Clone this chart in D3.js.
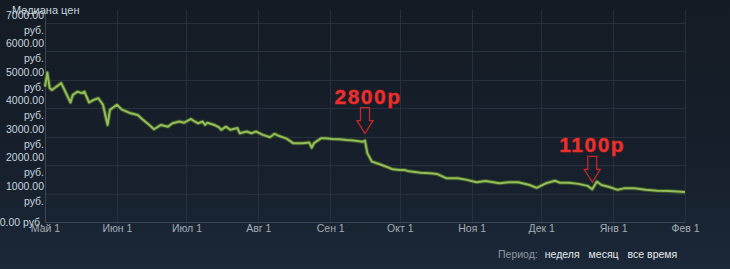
<!DOCTYPE html>
<html>
<head>
<meta charset="utf-8">
<script src="https://cdn.jsdelivr.net/npm/d3@7"></script>
<style>
    html, body { margin: 0; padding: 0; }
    body {
        width: 730px; height: 269px; overflow: hidden;
        background: linear-gradient(to bottom, #141b24 0%, #161f2b 60%, #1b2838 100%);
        font-family: Arial, "Liberation Sans", sans-serif;
    }
</style>
</head>
<body>
<div id="container"></div>
<script>
// median price series (rub)
const dates = [
    "2022-05-01", "2022-05-02", "2022-05-03", "2022-05-04", "2022-05-08", "2022-05-12", "2022-05-13",
    "2022-05-15", "2022-05-17", "2022-05-18", "2022-05-20", "2022-05-22", "2022-05-24", "2022-05-26",
    "2022-05-28", "2022-05-29", "2022-06-01", "2022-06-03", "2022-06-07", "2022-06-10", "2022-06-12",
    "2022-06-15", "2022-06-17", "2022-06-20", "2022-06-23", "2022-06-25", "2022-06-28", "2022-06-30",
    "2022-07-03", "2022-07-04", "2022-07-06", "2022-07-08", "2022-07-09", "2022-07-10", "2022-07-13",
    "2022-07-15", "2022-07-16", "2022-07-18", "2022-07-20", "2022-07-23", "2022-07-24", "2022-07-27",
    "2022-07-29", "2022-07-31", "2022-08-03", "2022-08-06", "2022-08-08", "2022-08-10", "2022-08-13",
    "2022-08-16", "2022-08-20", "2022-08-23", "2022-08-24", "2022-08-25", "2022-08-28", "2022-08-30",
    "2022-09-02", "2022-09-05", "2022-09-08", "2022-09-11", "2022-09-15", "2022-09-16", "2022-09-17",
    "2022-09-19", "2022-09-22", "2022-09-25", "2022-09-28", "2022-10-01", "2022-10-03", "2022-10-05",
    "2022-10-10", "2022-10-14", "2022-10-17", "2022-10-21", "2022-10-26", "2022-10-30", "2022-11-03",
    "2022-11-07", "2022-11-13", "2022-11-17", "2022-11-21", "2022-11-26", "2022-11-29", "2022-12-03",
    "2022-12-07", "2022-12-09", "2022-12-13", "2022-12-17", "2022-12-21", "2022-12-23", "2022-12-25",
    "2022-12-27", "2022-12-30", "2023-01-03", "2023-01-06", "2023-01-10", "2023-01-15", "2023-01-20",
    "2023-01-25", "2023-02-01"
];
const prices = [
    4760, 5250, 4710, 4640, 4880, 4200, 4470,
    4580, 4530, 4580, 4200, 4290, 4350, 4120,
    3410, 3940, 4120, 3960, 3820, 3760, 3610,
    3410, 3260, 3410, 3350, 3470, 3530, 3490,
    3620, 3560, 3470, 3530, 3410, 3490, 3410,
    3330, 3240, 3350, 3240, 3300, 3120, 3180,
    3120, 3180, 3060, 2980, 3100, 3020, 2940,
    2770, 2770, 2790, 2610, 2770, 2940, 2940,
    2920, 2910, 2880, 2860, 2820, 2860, 2420,
    2120, 2040, 1950, 1850, 1830, 1830, 1780,
    1730, 1710, 1690, 1540, 1540, 1480, 1400,
    1440, 1360, 1400, 1400, 1300, 1200, 1360,
    1450, 1380, 1380, 1340, 1270, 1150, 1420,
    1300, 1240, 1130, 1190, 1190, 1130, 1100,
    1090, 1050
];

const yTicks = [0, 1000, 2000, 3000, 4000, 5000, 6000, 7000];
const xTicks = ["2022-05-01", "2022-06-01", "2022-07-01", "2022-08-01", "2022-09-01",
    "2022-10-01", "2022-11-01", "2022-12-01", "2023-01-01", "2023-02-01"];
const xLabels = ["Май 1", "Июн 1", "Июл 1", "Авг 1", "Сен 1", "Окт 1", "Ноя 1", "Дек 1", "Янв 1", "Фев 1"];

// red callouts
const noteDates = ["2022-09-16", "2022-12-23"];
const noteValues = [2860, 1150];
const noteLabels = ["2800р", "1100р"];

const periodLabel = "Период:";
const periodOptions = ["неделя", "месяц", "все время"];

const W = 730, H = 269;
const plotLeft = 45, plotRight = 685, plotTop = 10, plotBottom = 222;

const parse = d3.timeParse("%Y-%m-%d");
const data = dates.map((d, i) => ({ date: parse(d), value: prices[i] }));

const x = d3.scaleTime()
    .domain([parse(xTicks[0]), parse(xTicks[xTicks.length - 1])])
    .range([plotLeft, plotRight]);
const y = d3.scaleLinear().domain([0, 7450]).range([plotBottom, plotTop]);

const svg = d3.select('#container').append('svg')
    .attr('width', W)
    .attr('height', H);

// grid
svg.append('g').selectAll('line').data(yTicks.slice(1)).enter().append('line')
    .attr('x1', plotLeft).attr('x2', plotRight)
    .attr('y1', (d) => Math.round(y(d)) + 0.5).attr('y2', (d) => Math.round(y(d)) + 0.5)
    .style('stroke', '#27313e');

svg.append('g').selectAll('line').data(xTicks.slice(1)).enter().append('line')
    .attr('x1', (d) => Math.round(x(parse(d))) + 0.5).attr('x2', (d) => Math.round(x(parse(d))) + 0.5)
    .attr('y1', plotTop).attr('y2', plotBottom)
    .style('stroke', '#27313e');

// axis frame
svg.append('line').attr('x1', plotLeft + 0.5).attr('x2', plotLeft + 0.5).attr('y1', plotTop).attr('y2', plotBottom)
    .style('stroke', '#3a4655');
svg.append('line').attr('x1', plotLeft).attr('x2', plotRight).attr('y1', plotBottom + 0.5).attr('y2', plotBottom + 0.5)
    .style('stroke', '#3a4655');

// y labels (two lines, value over currency)
const yLab = svg.append('g').selectAll('text').data(yTicks).enter().append('text')
    .attr('text-anchor', 'end')
    .style('font-size', '10.5px')
    .style('fill', '#c6d4df');
yLab.each(function (d) {
    const t = d3.select(this);
    const yy = y(d);
    if (d === 0) {
        t.append('tspan').attr('x', 43).attr('y', yy + 4).text(d3.format('.2f')(d) + ' руб.');
    } else {
        t.append('tspan').attr('x', 44).attr('y', yy - 4).text(d3.format('.2f')(d));
        t.append('tspan').attr('x', 44).attr('y', yy + 11).text('руб.');
    }
});

// x axis
const xAxis = d3.axisBottom(x)
    .tickValues(xTicks.map(parse))
    .tickFormat((d, i) => xLabels[i])
    .tickSize(0)
    .tickPadding(3);
const gx = svg.append('g').attr('transform', `translate(0 ${plotBottom})`).call(xAxis);
gx.select('.domain').remove();
gx.selectAll('text')
    .style('font-family', 'Arial, "Liberation Sans", sans-serif')
    .style('font-size', '10.5px')
    .style('fill', '#a4adb6');

// title
svg.append('text')
    .attr('x', 12).attr('y', 14)
    .style('font-size', '11px')
    .style('fill', '#c6d4df')
    .text('Медиана цен');

// price line
const line = d3.line().x((d) => x(d.date)).y((d) => y(d.value));
svg.append('path').datum(data)
    .attr('d', line)
    .style('fill', 'none')
    .style('stroke', '#3c5427')
    .style('stroke-width', 4)
    .style('stroke-linejoin', 'round');
svg.append('path').datum(data)
    .attr('d', line)
    .style('fill', 'none')
    .style('stroke', '#93bd5b')
    .style('stroke-width', 2)
    .style('stroke-linejoin', 'round');

// callouts
const notes = svg.append('g').selectAll('g').data(noteDates).enter().append('g')
    .attr('transform', (d, i) => `translate(${x(parse(d))} ${y(noteValues[i]) - 7})`);

notes.append('path')
    .attr('d', 'M0,0 L-8,-13 L-4.5,-13 L-4.5,-26 L4.5,-26 L4.5,-13 L8,-13 Z')
    .style('fill', 'none')
    .style('stroke', '#c4272b')
    .style('stroke-width', 1.3);

notes.append('text')
    .attr('x', (d, i) => i === 0 ? 3 : 0)
    .attr('y', -30)
    .attr('text-anchor', 'middle')
    .style('font-size', '21px')
    .style('font-weight', 'bold')
    .style('letter-spacing', '1.5px')
    .style('fill', '#e8302e')
    .style('stroke', '#9c1b1b')
    .style('stroke-width', 0.8)
    .style('paint-order', 'stroke')
    .text((d, i) => noteLabels[i]);

// period selector
const legend = svg.append('text')
    .attr('x', 498).attr('y', 258)
    .style('font-size', '10.5px');
legend.append('tspan').style('fill', '#8f98a0').text(periodLabel);
periodOptions.forEach((p, i) => {
    legend.append('tspan').attr('dx', i === 0 ? 7 : 9).style('fill', '#e6e9ec').text(p);
});
</script>
</body>
</html>
